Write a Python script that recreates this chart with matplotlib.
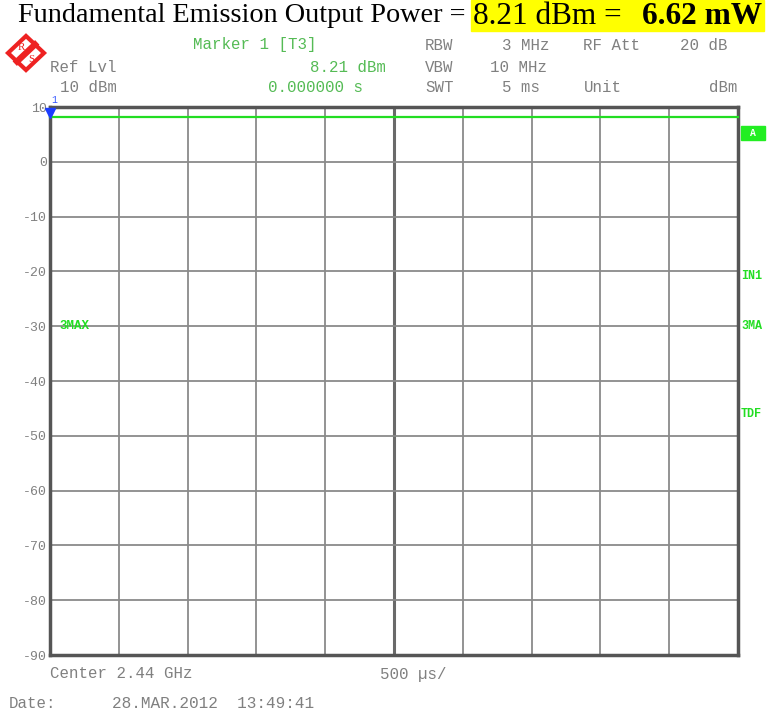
import matplotlib
matplotlib.use("Agg")
import matplotlib.pyplot as plt
from matplotlib.patches import Polygon, Rectangle
import numpy as np

# ---- data ----
time_ms = [0.0, 5.0]
level_dbm = [8.21, 8.21]
y_ticks = [10, 0, -10, -20, -30, -40, -50, -60, -70, -80, -90]
y_tick_labels = ["10", "0", "-10", "-20", "-30", "-40", "-50", "-60", "-70", "-80", "-90"]
x_div = [0, 0.5, 1.0, 1.5, 2.0, 2.5, 3.0, 3.5, 4.0, 4.5, 5.0]
marker_time = 0.0
marker_level = 8.21
right_labels = [("IN1", -20.8), ("3MA", -30), ("TDF", -46)]

W, H = 767, 715
fig = plt.figure(figsize=(W / 100, H / 100), dpi=100)
fig.patch.set_facecolor("white")

def fx(px):
    return px / W

def fy(py):
    return 1 - py / H

L, R, T, B = 50, 738, 107, 655
ax = fig.add_axes([fx(L), fy(B), fx(R) - fx(L), fy(T) - fy(B)])
ax.set_xlim(0, 5)
ax.set_ylim(-90, 10)

grid_c = "#8a8a8a"
for x in x_div[1:-1]:
    lw = 2.2 if abs(x - 2.5) < 1e-9 else 1.3
    col = "#6a6a6a" if abs(x - 2.5) < 1e-9 else grid_c
    ax.axvline(x, color=col, lw=lw, zorder=1)
for y in y_ticks[1:-1]:
    ax.axhline(y, color=grid_c, lw=1.3, zorder=1)

for s in ax.spines.values():
    s.set_color("#555555")
    s.set_linewidth(2.5)

mono = "Liberation Mono"
grey = "#808080"

ax.set_xticks([])
ax.set_yticks(y_ticks)
ax.set_yticklabels(y_tick_labels, family=mono, fontsize=9.5, color=grey)
ax.tick_params(axis="y", length=0, pad=2)

green = "#22dd22"
ax.plot(time_ms, level_dbm, color=green, lw=1.6, zorder=3, clip_on=False)
ax.plot([marker_time], [marker_level + 0.7], marker="v", color="#1a3cff", ms=7, zorder=5, clip_on=False)
ax.text(marker_time + 0.01, 10.3, "1", color="#3355ff", fontsize=7, family=mono,
        ha="left", va="bottom", clip_on=False)
ax.text(0.07, -30, "3MAX", color=green, fontsize=9, family=mono, weight="bold",
        ha="left", va="center")

def t(px, py, s, color=grey, ha="left", size=11.3, **kw):
    fig.text(fx(px), fy(py), s, color=color, ha=ha, va="center", family=mono, fontsize=size, **kw)

mgreen = "#55bb55"
# header
t(193, 45, "Marker 1 [T3]", color=mgreen)
t(425, 45, "RBW")
t(502, 45, "3 MHz")
t(583, 45, "RF Att")
t(680, 45, "20 dB")
t(50, 67, "Ref Lvl")
t(386, 67, "8.21 dBm", color=mgreen, ha="right")
t(425, 67, "VBW")
t(490, 67, "10 MHz")
t(60, 88, "10 dBm")
t(363, 88, "0.000000 s", color=mgreen, ha="right")
t(425, 88, "SWT")
t(502, 88, "5 ms")
t(584, 88, "Unit")
t(738, 88, "dBm", ha="right")

# bottom
t(50, 674, "Center 2.44 GHz")
t(380, 674, "500 \u00b5s/")
t(9, 703, "Date:")
t(112, 703, "28.MAR.2012  13:49:41", size=11.6)

# right side labels
fig.patches.append(Rectangle((fx(741), fy(140)), fx(765) - fx(741), fy(126) - fy(140),
                             transform=fig.transFigure, color="#22ee22", zorder=2))
fig.text(fx(753), fy(133), "A", color="white", ha="center", va="center", family=mono,
         fontsize=7, weight="bold")
for lab, lv in right_labels:
    py = T + (10 - lv) * (B - T) / 100
    fig.text(fx(741), fy(py), lab, color=green, ha="left", va="center", family=mono,
             fontsize=8.5, weight="bold")

# logo
red = "#ee2222"
cx, cy, hw, hh = 26, 53, 18, 17
diamond = Polygon([(fx(cx), fy(cy - hh)), (fx(cx + hw), fy(cy)), (fx(cx), fy(cy + hh)), (fx(cx - hw), fy(cy))],
                  closed=True, transform=fig.transFigure, fill=False, edgecolor=red, lw=3)
fig.patches.append(diamond)
fig.lines.append(plt.Line2D([fx(cx - 9), fx(cx + 9)], [fy(cy + 8.5), fy(cy - 8.5)], transform=fig.transFigure,
                            color=red, lw=4.5))
fig.text(fx(cx - 5), fy(cy - 6), "R", color=red, ha="center", va="center", fontsize=8, family="Liberation Serif")
fig.text(fx(cx + 5), fy(cy + 7), "S", color=red, ha="center", va="center", fontsize=8, family="Liberation Serif")

# title
fig.patches.append(Rectangle((fx(471), fy(31)), fx(764) - fx(471), fy(0) - fy(31),
                             transform=fig.transFigure, color="#ffff00", zorder=0))
serif = "Liberation Serif"
fs = 20.3
fig.text(fx(18), fy(16), "Fundamental Emission Output Power = ", family=serif, fontsize=fs,
         ha="left", va="center", color="black")
fig.text(fx(473), fy(16), "8.21 dBm =", family=serif, fontsize=22.5, ha="left", va="center", color="black")
fig.text(fx(762), fy(16), "6.62 mW", family=serif, fontsize=22.5, weight="bold", ha="right", va="center",
         color="black")

fig.savefig("out.png", dpi=100)
